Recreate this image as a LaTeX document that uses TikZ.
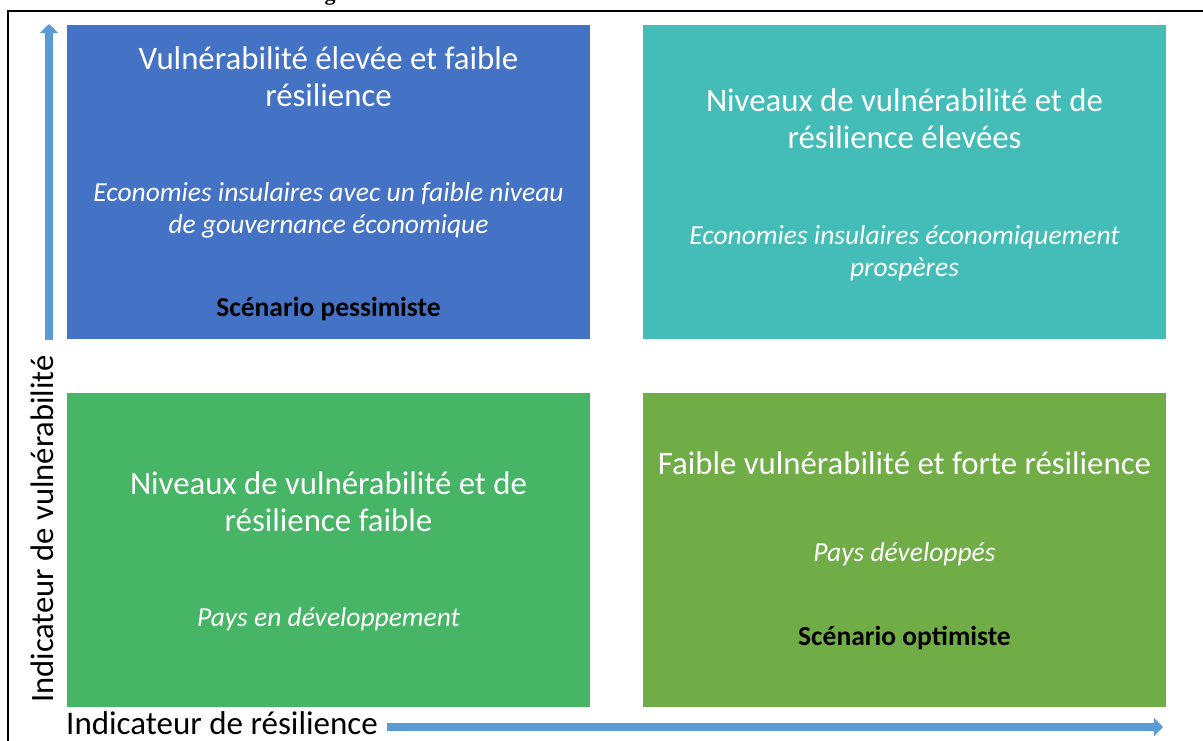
\documentclass[tikz,border=0pt]{standalone}
\usepackage{fontspec}
\setmainfont{Carlito}
\newfontfamily\capfont{Liberation Serif}
\usetikzlibrary{arrows.meta}
\definecolor{qblue}{RGB}{68,114,196}
\definecolor{qteal}{RGB}{68,189,184}
\definecolor{qgreen}{RGB}{71,181,102}
\definecolor{qolive}{RGB}{112,173,71}
\definecolor{axisblue}{RGB}{91,155,213}
\tikzset{
  quad/.style={draw=none, inner sep=0pt, outer sep=0pt, minimum width=523pt, minimum height=314pt, anchor=north west},
  ttl/.style={text=white, inner sep=0pt, anchor=base, align=center, font=\fontsize{32.8}{37}\selectfont},
  sub/.style={text=white, inner sep=0pt, anchor=base, align=center, font=\fontsize{27.5}{32}\selectfont\itshape},
  scen/.style={text=black, inner sep=0pt, anchor=base, align=center, font=\fontsize{27.5}{32}\selectfont\bfseries},
  axlab/.style={text=black, inner sep=0pt},
  axarrow/.style={draw=axisblue, line width=8pt, -{Triangle[width=18pt,length=9pt]}}
}
\begin{document}
\begin{tikzpicture}[x=1pt,y=-1pt]
\useasboundingbox (0,0) rectangle (1203,740);
% cut caption fragment
\node[inner sep=0pt, anchor=base, font=\capfont\bfseries\fontsize{22}{24}\selectfont] (cap) at (330,0) {g};
% frame
\draw[line width=2pt] (8,745) -- (8,11) -- (1210,11);
% quadrants
\node[quad, fill=qblue]  (q1) at (67,25) {};
\node[quad, fill=qteal]  (q2) at (643,25) {};
\node[quad, fill=qgreen] (q3) at (67,393) {};
\node[quad, fill=qolive] (q4) at (643,393) {};
% texts top-left (base anchor = last line baseline)
\node[ttl] (t1) at (328.5,106) {Vulnérabilité élevée et faible\\résilience};
\node[sub] (s1) at (328.5,233) {Economies insulaires avec un faible niveau\\de gouvernance économique};
\node[scen] (c1) at (328.5,316) {Scénario pessimiste};
% top-right
\node[ttl] (t2) at (904.5,148) {Niveaux de vulnérabilité et de\\résilience élevées};
\node[sub] (s2) at (904.5,276) {Economies insulaires économiquement\\prospères};
% bottom-left
\node[ttl] (t3) at (328.5,531) {Niveaux de vulnérabilité et de\\résilience faible};
\node[sub] (s3) at (328.5,626) {Pays en développement};
% bottom-right
\node[ttl] (t4) at (904.5,474) {Faible vulnérabilité et forte résilience};
\node[sub] (s4) at (904.5,561) {Pays développés};
\node[scen] (c4) at (904.5,645) {Scénario optimiste};
% axes
\coordinate (vs) at (49,340);
\coordinate (ve) at (49,24);
\draw[axarrow] (vs) -- (ve);
\coordinate (hs) at (387,727);
\coordinate (he) at (1163,727);
\draw[axarrow] (hs) -- (he);
\node[axlab, rotate=90, anchor=base, font=\fontsize{32.6}{38}\selectfont] (yl) at (53,529) {Indicateur de vulnérabilité};
\node[axlab, anchor=base west, font=\fontsize{33}{38}\selectfont] (xl) at (66,734) {Indicateur de résilience};
\end{tikzpicture}
\end{document}
